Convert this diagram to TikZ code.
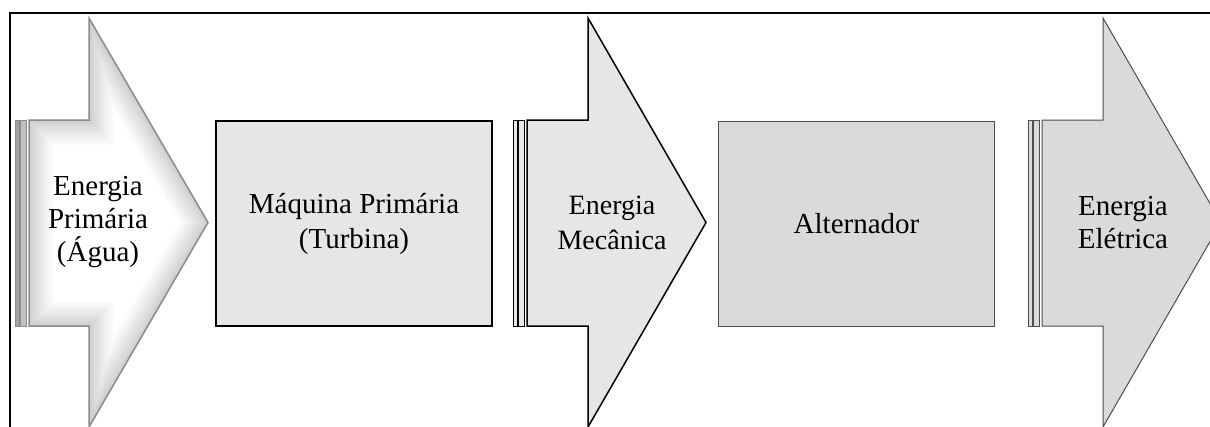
\documentclass[tikz,border=0pt]{standalone}
\usepackage{fontspec}
\setmainfont{Liberation Serif}
\usepackage{xcolor}
\usepackage{tikz}
\usetikzlibrary{positioning, calc}
\definecolor{blockLight}{HTML}{E6E6E6}
\definecolor{blockDark}{HTML}{DADADA}
\definecolor{edgeDark}{HTML}{4D4D4D}
\definecolor{glowEdge}{HTML}{8C8C8C}

\begin{document}
\begin{tikzpicture}[
    x=1pt,y=-1pt,
    blockbox/.style={rectangle,minimum width=276pt,minimum height=205pt,align=center,
                     font=\fontsize{29}{35}\selectfont},
    arrowtext/.style={align=center,font=\fontsize{29}{33}\selectfont},
    stripe/.style={line width=1pt}
]
    \useasboundingbox (0,0) rectangle (1210,426);
    \clip (0,0) rectangle (1210,426);

    % Frame
    \draw[line width=2pt] (10,430) -- (10,12.5) -- (1210,12.5);

    % Energia Primaria
    \draw[stripe,draw=glowEdge,fill=glowEdge!80] (15,120) rectangle (19,326);
    \draw[stripe,draw=glowEdge,fill=glowEdge!55] (20,120) rectangle (26,326);
    \fill[white] (29,120) -- (89,120) -- (89,18) -- (208,222.5) -- (89,427) -- (89,326) -- (29,326) -- cycle;
    \begin{scope}
        \clip (29,120) -- (89,120) -- (89,18) -- (208,222.5) -- (89,427) -- (89,326) -- (29,326) -- cycle;
        \foreach \w in {48,42,36,31,26,21,17,13,9,6,3}
            \draw[line width=\w pt,draw=glowEdge,opacity=0.045]
                (29,120) -- (89,120) -- (89,18) -- (208,222.5) -- (89,427) -- (89,326) -- (29,326) -- cycle;
    \end{scope}
    \draw[line width=1.5pt,draw=glowEdge]
        (29,120) -- (89,120) -- (89,18) -- (208,222.5) -- (89,427) -- (89,326) -- (29,326) -- cycle;
    \node[arrowtext] (primaria) at (98,222) {Energia\\Primária\\(Água)};

    % Maquina Primaria
    \node[blockbox,draw=black,line width=1.8pt,fill=blockLight] (turbina) at (354,223.5)
        {Máquina Primária\\(Turbina)};

    % Energia Mecanica
    \draw[stripe,draw=black,fill=blockLight] (513,120) rectangle (517,326);
    \draw[stripe,draw=black,fill=blockLight] (518,120) rectangle (524,326);
    \draw[line width=1.5pt,draw=black,fill=blockLight]
        (527,120) -- (588,120) -- (588,18) -- (706,222.5) -- (588,427) -- (588,326) -- (527,326) -- cycle;
    \node[arrowtext,font=\fontsize{28}{35}\selectfont] (mecanica) at (612,223) {Energia\\Mecânica};

    % Alternador
    \node[blockbox,draw=edgeDark,line width=1pt,fill=blockDark] (alternador) at (856.5,223.5)
        {Alternador};

    % Energia Eletrica
    \draw[stripe,draw=edgeDark,fill=blockDark] (1028,120) rectangle (1032,326);
    \draw[stripe,draw=edgeDark,fill=blockDark] (1033,120) rectangle (1039,326);
    \draw[line width=1pt,draw=edgeDark,fill=blockDark]
        (1042,120) -- (1103,120) -- (1103,18) -- (1221,222.5) -- (1103,427) -- (1103,326) -- (1042,326) -- cycle;
    \node[arrowtext] (eletrica) at (1123,223) {Energia\\Elétrica};
\end{tikzpicture}
\end{document}
